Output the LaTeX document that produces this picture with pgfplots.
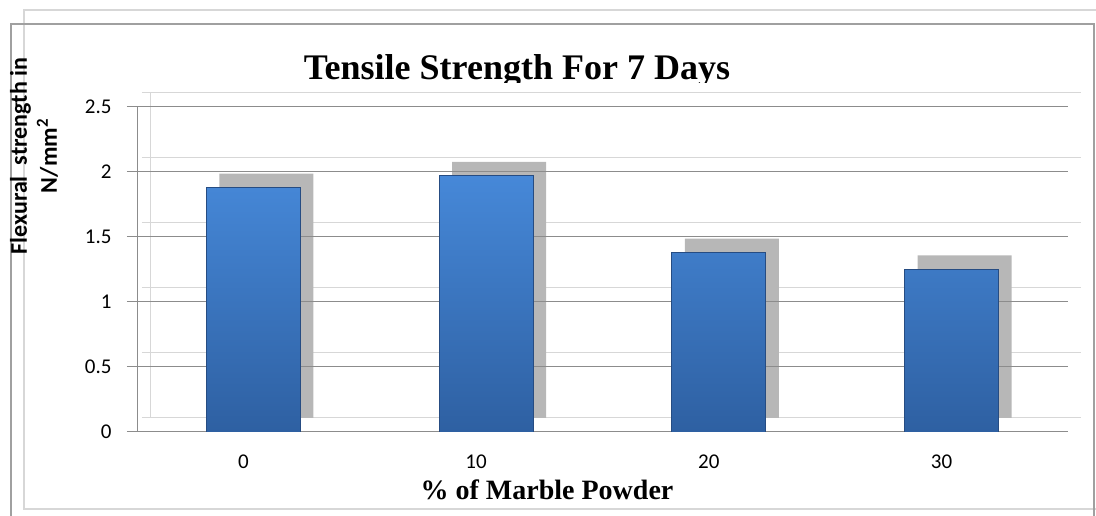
\documentclass[border=0pt]{standalone}
\usepackage{fontspec}
\setmainfont{Liberation Serif}
\newfontfamily\calibri{Carlito}
\usepackage{pgfplots}
\usepackage{pgfplotstable}
\pgfplotsset{compat=1.18}
\definecolor{frontgrid}{RGB}{140,140,140}
\definecolor{backgrid}{RGB}{215,215,215}
\definecolor{shadowgray}{RGB}{183,183,183}
\definecolor{bartop}{RGB}{70,136,216}
\definecolor{barbot}{RGB}{46,96,162}
\definecolor{baredge}{RGB}{38,76,130}
\definecolor{frameA}{RGB}{160,160,160}
\definecolor{frameB}{RGB}{215,215,215}

\pgfplotstableread{
x v
0 1.88
1 1.97
2 1.38
3 1.25
}\datatable

\begin{document}
\begin{tikzpicture}[x=1pt,y=1pt]
\begin{scope}
\clip (0,0) rectangle (1096,516);
% frames
\draw[frameB, line width=1.5pt] (1110,506) -- (24,506) -- (24,7) -- (1110,7);
\draw[frameA, line width=1.5pt] (11,-10) -- (11,492) -- (1094,492) -- (1094,-10);

% back wall with shadows
\begin{axis}[at={(150pt,98pt)}, anchor=south west, width=931pt, height=325pt, scale only axis,
  xmin=-0.5, xmax=3.5, ymin=0, ymax=2.5,
  ytick={0,0.5,1,1.5,2,2.5}, xtick=\empty, yticklabels={},
  ymajorgrids, grid style={backgrid, line width=1pt},
  axis x line*=bottom, axis y line*=left,
  axis line style={backgrid, line width=1pt, -},
  ytick style={backgrid, line width=1pt}, major tick length=8pt, tick align=outside,
  ybar, bar width=94pt, clip=false]
\addplot[fill=shadowgray, draw=none] table[x=x,y=v]{\datatable};
\end{axis}

% front axis with bars
\begin{axis}[at={(137pt,84pt)}, anchor=south west, width=931pt, height=325pt, scale only axis,
  xmin=-0.5, xmax=3.5, ymin=0, ymax=2.5,
  ytick={0,0.5,1,1.5,2,2.5}, xtick={0,1,2,3}, xticklabels={0,10,20,30},
  ymajorgrids, grid style={frontgrid, line width=1pt},
  axis x line*=bottom, axis y line*=left,
  axis line style={frontgrid, line width=1pt, -},
  ytick style={frontgrid, line width=1pt}, xtick style={draw=none},
  major tick length=10pt, tick align=outside,
  ticklabel style={font=\calibri\fontsize{21}{25}\selectfont, black},
  /pgf/number format/assume math mode=true,
  yticklabel style={xshift=-12pt},
  xticklabel style={yshift=-9pt, xshift=-10pt},
  ybar, bar width=94pt]
\addplot[draw=baredge, line width=0.8pt, top color=bartop, bottom color=barbot] table[x=x,y=v]{\datatable};
\end{axis}

% title (clipped at bottom as in the original)
\begin{scope}
\clip (0,433) rectangle (1096,516);
\node[anchor=base, font=\bfseries\fontsize{36}{42}\selectfont] at (517,436) {Tensile Strength For 7 Days};
\end{scope}

% axis titles
\node[anchor=base, font=\bfseries\fontsize{28}{34}\selectfont] at (547,16) {\% of Marble Powder};
\node[rotate=90, align=center, font=\calibri\bfseries\fontsize{24}{30}\selectfont] at (34,360) {Flexural\ \ strength in\\N/mm\textsuperscript{2}};
\end{scope}
\pgfresetboundingbox
\useasboundingbox (0,0) rectangle (1096,516);
\end{tikzpicture}
\end{document}
